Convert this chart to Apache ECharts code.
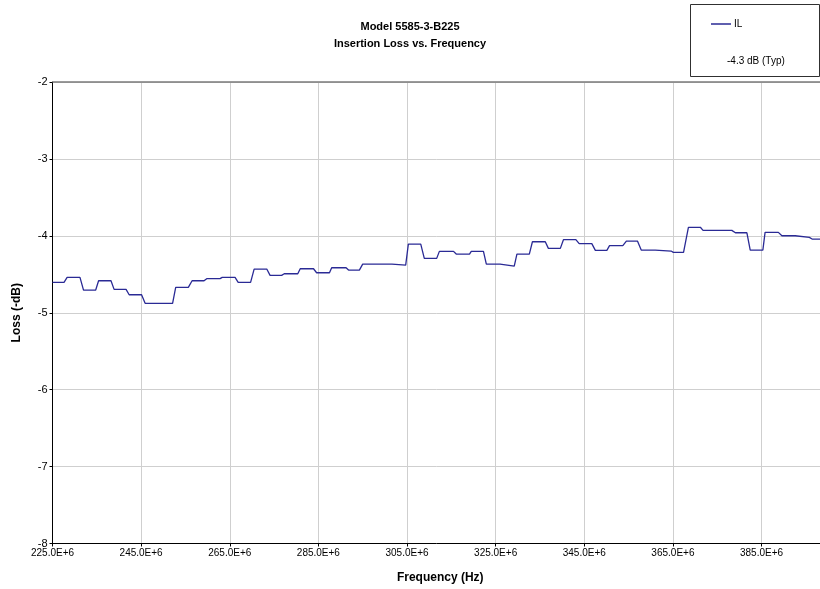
<!DOCTYPE html>
<html>
<head>
<meta charset="utf-8">
<script src="https://cdn.jsdelivr.net/npm/echarts@6/dist/echarts.min.js"></script>
<style>html,body{margin:0;padding:0;background:#fff}#c{width:820px;height:589px}</style>
</head>
<body>
<div id="c"></div>
<script>
var freqMHz = [225.0,227.6,228.3,231.2,232.0,234.75,235.4,238.2,238.9,241.6,242.3,245.1,245.9,252.1,252.8,255.65,256.5,259.2,259.8,262.8,263.3,266.2,266.9,269.7,270.5,273.35,274.1,276.7,277.3,280.35,280.9,283.9,284.6,287.5,288.0,291.25,291.8,294.25,295.0,301.6,301.9,304.7,305.3,308.1,308.9,311.7,312.3,315.5,316.1,319.1,319.5,322.25,322.9,326.0,326.4,329.2,329.8,332.6,333.3,336.2,336.9,339.6,340.3,343.1,343.85,346.7,347.5,350.1,350.7,353.7,354.5,357.0,357.85,361.0,361.2,364.6,365.1,367.4,368.5,371.2,371.8,378.3,379.1,381.7,382.45,385.3,385.8,388.8,389.6,392.6,393.0,395.8,396.4,400.0];
var lossDB = [-4.605,-4.605,-4.54,-4.54,-4.705,-4.705,-4.584,-4.584,-4.696,-4.696,-4.766,-4.766,-4.878,-4.878,-4.67,-4.67,-4.584,-4.584,-4.557,-4.557,-4.54,-4.54,-4.605,-4.605,-4.432,-4.432,-4.514,-4.514,-4.493,-4.493,-4.428,-4.428,-4.48,-4.48,-4.415,-4.415,-4.445,-4.445,-4.367,-4.367,-4.38,-4.38,-4.107,-4.107,-4.293,-4.293,-4.202,-4.202,-4.237,-4.237,-4.202,-4.202,-4.367,-4.367,-4.393,-4.393,-4.237,-4.237,-4.077,-4.077,-4.163,-4.163,-4.05,-4.05,-4.102,-4.102,-4.189,-4.189,-4.128,-4.128,-4.068,-4.068,-4.185,-4.185,-4.198,-4.198,-4.215,-4.215,-3.889,-3.889,-3.929,-3.929,-3.96,-3.96,-4.185,-4.185,-3.955,-3.955,-3.999,-3.999,-4.02,-4.02,-4.042,-4.042];
var xTickMHz = [225,245,265,285,305,325,345,365,385];
var xTickLabels = ['225.0E+6','245.0E+6','265.0E+6','285.0E+6','305.0E+6','325.0E+6','345.0E+6','365.0E+6','385.0E+6'];
var yMin = -8, yMax = -2, yStep = 1;
var seriesName = 'IL';
var noteText = '-4.3 dB (Typ)';

var FONT = 'Liberation Sans, Arial, sans-serif';
var data = freqMHz.map(function(f, i){ return [f * 1e6, lossDB[i]]; });
var tickHz = xTickMHz.map(function(f){ return f * 1e6; });

var chart = echarts.init(document.getElementById('c'), null, {renderer:'canvas'});
chart.setOption({
  animation: false,
  backgroundColor: '#fff',
  title: {
    text: 'Model 5585-3-B225\nInsertion Loss vs. Frequency',
    left: 'center', top: 13,
    textStyle: {fontFamily: FONT, fontSize: 11, fontWeight: 'bold', color: '#000', lineHeight: 17}
  },
  legend: {
    data: [seriesName], left: 711, top: 19, padding: 0, icon: 'rect', itemWidth: 20, itemHeight: 1.5,
    itemGap: 4,
    textStyle: {fontFamily: FONT, fontSize: 10, color: '#000', padding: [0,0,0,-2]}
  },
  graphic: [
    {type: 'rect', left: 690, top: 4, z: -1, shape: {width: 129, height: 72},
     style: {fill: '#fff', stroke: '#303030', lineWidth: 1}},
    {type: 'text', left: 727, top: 56, style: {text: noteText, font: '10px ' + FONT, fill: '#000'}}
  ],
  grid: {left: 52.5, top: 82, width: 775.5, height: 461.5, show: false, outerBoundsMode: 'none', containLabel: false},
  xAxis: {
    type: 'value', min: 225e6, max: 400e6,
    name: 'Frequency (Hz)', nameLocation: 'middle', nameGap: 28,
    nameTextStyle: {fontFamily: FONT, fontSize: 12, fontWeight: 'bold', color: '#000'},
    axisLine: {lineStyle: {color: '#000', width: 1}},
    axisTick: {show: true, length: 3, lineStyle: {color: '#000'}, customValues: tickHz},
    axisLabel: {
      customValues: tickHz, fontFamily: FONT, fontSize: 10, color: '#000', margin: 5,
      formatter: function(v){ var i = tickHz.indexOf(v); return i >= 0 ? xTickLabels[i] : ''; }
    },
    splitLine: {show: true, lineStyle: {color: '#cfcfcf', width: 1}}
  },
  yAxis: {
    type: 'value', min: yMin, max: yMax, interval: yStep,
    name: 'Loss (-dB)', nameLocation: 'middle', nameGap: 30, nameRotate: 90,
    nameTextStyle: {fontFamily: FONT, fontSize: 12, fontWeight: 'bold', color: '#000'},
    axisLine: {show: true, lineStyle: {color: '#000', width: 1}},
    axisTick: {show: true, length: 3, lineStyle: {color: '#000'}},
    axisLabel: {fontFamily: FONT, fontSize: 11, color: '#000', margin: 5},
    splitLine: {show: true, lineStyle: {color: '#cfcfcf', width: 1}}
  },
  series: [{
    name: seriesName, type: 'line', data: data, showSymbol: false, symbol: 'none',
    color: '#2a2a95',
    lineStyle: {color: '#2a2a95', width: 1.3},
    markLine: {
      silent: true, symbol: 'none', label: {show: false},
      lineStyle: {color: '#7a7a7a', type: 'solid', width: 1.5},
      data: [{yAxis: yMax}]
    }
  }]
});
</script>
</body>
</html>
